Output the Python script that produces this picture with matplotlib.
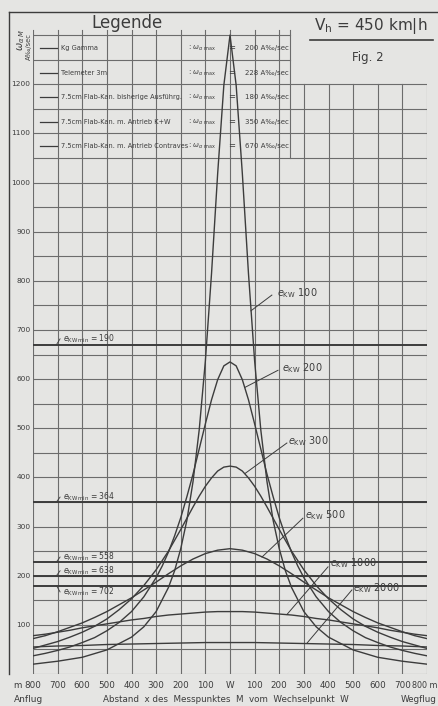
import matplotlib
matplotlib.use("Agg")
import matplotlib.pyplot as plt
from matplotlib.lines import Line2D

plt.rcParams['font.family'] = ['DejaVu Sans']
plt.rcParams['mathtext.fontset'] = 'dejavusans'

# ---------------- data ----------------
x_e100 = [-800, -700, -600, -500, -400, -350, -300, -250, -225, -200, -175, -150, -125, -100,
          -75, -50, -25, 0, 25, 50, 75, 100, 125, 150, 175, 200, 225, 250, 300, 350,
          400, 500, 600, 700, 800]
e100 = [20, 26, 34, 49, 75, 96, 127, 176, 210, 255, 313, 392, 497, 637,
        815, 1019, 1198, 1300, 1198, 1019, 815, 637, 497, 392, 313, 255, 210, 176, 127, 96,
        75, 49, 34, 26, 20]

x_fine = [-800, -750, -700, -650, -600, -550, -500, -450, -400, -350,
          -300, -275, -250, -225, -200, -175, -150, -125, -100, -75, -50, -25, 0,
          25, 50, 75, 100, 125, 150, 175, 200, 225, 250, 275, 300,
          350, 400, 450, 500, 550, 600, 650, 700, 750, 800]
e200 = [37, 42, 48, 55, 64, 74, 88, 105, 127, 157,
        196, 220, 248, 281, 318, 361, 407, 458, 509, 558, 599, 627, 635,
        627, 599, 558, 509, 458, 407, 361, 318, 281, 248, 220, 196,
        157, 127, 105, 88, 74, 64, 55, 48, 42, 37]
e300 = [52, 59, 66, 75, 85, 97, 112, 131, 153, 180,
        212, 231, 250, 272, 294, 317, 340, 362, 382, 399, 413, 421, 423,
        421, 413, 399, 382, 362, 340, 317, 294, 272, 250, 231, 212,
        180, 153, 131, 112, 97, 85, 75, 66, 59, 52]

x_m = list(range(-800, 801, 50))
e500 = [72, 78, 86, 95, 104, 115, 127, 141, 155, 171, 187, 204, 220, 234, 245, 252,
        255, 252, 245, 234, 220, 204, 187, 171, 155, 141, 127, 115, 104, 95, 86, 78, 72]
e1000 = [78, 81, 85, 89, 94, 98, 102, 106, 110, 113, 117, 120, 122, 124, 126, 127,
         127, 127, 126, 124, 122, 120, 117, 113, 110, 106, 102, 98, 94, 89, 85, 81, 78]
x_100 = list(range(-800, 801, 100))
e2000 = [55, 57, 58, 60, 61, 62, 63, 64, 64, 64, 63, 62, 61, 60, 58, 57, 55]

omega_levels = [670, 350, 228, 200, 180]
e_min_labels = ["190", "364", "558", "638", "702"]
e_min_text_y = [682, 360, 238, 210, 167]

legend_names = ["Kg Gamma", "Telemeter 3m", "7.5cm Flab-Kan. bisherige Ausführg.",
                "7.5cm Flab-Kan. m. Antrieb K+W", "7.5cm Flab-Kan. m. Antrieb Contraves"]
legend_values = ["200", "228", "180", "350", "670"]

x_ticklabels = ["800", "700", "600", "500", "400", "300", "200", "100", "W",
                "100", "200", "300", "400", "500", "600", "700"]
x_last_label = "800 m"
y_ticks = list(range(100, 1201, 100))

# ---------------- styling ----------------
W, H = 438, 706
BG = '#e5e5e3'
INK = '#3c3c3c'
GRID = '#6c6c6c'

fig = plt.figure(figsize=(W / 100, H / 100), dpi=100, facecolor=BG)
ax = fig.add_axes([33 / W, 32 / H, 394 / W, 662 / H])
ax.set_facecolor(BG)
ax.set_xlim(-800, 800)
ax.set_ylim(0, 1347)
ax.axis('off')


def fx(px):
    return px / W


def fy(py):
    return 1 - py / H


def ftext(px, py, s, **kw):
    fig.text(fx(px), fy(py), s, color=INK, **kw)


def fline(x0, y0, x1, y1, lw=1.0, color=INK):
    fig.add_artist(Line2D([fx(x0), fx(x1)], [fy(y0), fy(y1)],
                          transform=fig.transFigure, lw=lw, color=color))


# outer frame
fline(9, 12, 9, 674, lw=1.0)
fline(9, 12, 438, 12, lw=1.0)

# grid
for xv in x_100:
    top = 1310 if xv <= 200 else 1200
    ax.plot([xv, xv], [0, top], color=GRID, lw=0.8, zorder=1)
for yv in range(0, 1301, 50):
    right = 800 if yv <= 1200 else 244
    ax.plot([-800, right], [yv, yv], color=GRID, lw=0.8, zorder=1)
ax.plot([244, 244], [1050, 1310], color=GRID, lw=0.8, zorder=1)

# omega_max levels
for lv in omega_levels:
    ax.plot([-800, 800], [lv, lv], color=INK, lw=1.4, zorder=2)

# curves
ax.plot(x_e100, e100, color=INK, lw=1.0, zorder=3)
ax.plot(x_fine, e200, color=INK, lw=1.0, zorder=3)
ax.plot(x_fine, e300, color=INK, lw=1.0, zorder=3)
ax.plot(x_m, e500, color=INK, lw=1.0, zorder=3)
ax.plot(x_m, e1000, color=INK, lw=1.0, zorder=3)
ax.plot(x_100, e2000, color=INK, lw=1.0, zorder=3)

# curve labels with leader lines
curve_labels = [("100", (85, 739), (170, 771), (191, 776)),
                ("200", (60, 583), (195, 618), (211, 623)),
                ("300", (61, 408), (231, 470), (235, 474)),
                ("500", (130, 238), (296, 317), (305, 323)),
                ("1000", (231, 121), (398, 218), (406, 226)),
                ("2000", (313, 63), (495, 171), (500, 175))]
for lab, p0, p1, pt in curve_labels:
    ax.plot([p0[0], p1[0]], [p0[1], p1[1]], color=INK, lw=0.7, zorder=3)
    ax.text(pt[0], pt[1], r"$e_{\mathregular{KW}}$ " + lab, fontsize=7, color=INK,
            ha='left', va='center', zorder=4)

# e_KW min labels
for lab, ty, lv in zip(e_min_labels, e_min_text_y, omega_levels):
    ax.text(-680, ty, r"$e_{\mathregular{KW\,min}}$ = " + lab, fontsize=5.5, color=INK,
            ha='left', va='center', zorder=4)
    ax.plot([-705, -690], [lv, ty], color=INK, lw=0.6, zorder=3)

# y tick labels
for v in y_ticks:
    ax.text(-0.006, v, str(v), transform=ax.get_yaxis_transform(), fontsize=5.3,
            color=INK, ha='right', va='center')

# x tick labels
for xv, lab in zip(x_100[:-1], x_ticklabels):
    ax.text(xv, -0.017, lab, transform=ax.get_xaxis_transform(), fontsize=6.3,
            color=INK, ha='center', va='center')
ftext(437, 685, x_last_label, fontsize=5.8, ha='right', va='center')
ftext(17, 685, "m", fontsize=6.3, ha='center', va='center')
ftext(14, 699, "Anflug", fontsize=6.5, ha='left', va='center')
ftext(226, 699, "Abstand  x des  Messpunktes  M  vom  Wechselpunkt  W", fontsize=6.3,
      ha='center', va='center')
ftext(437, 699, "Wegflug", fontsize=6.3, ha='right', va='center')

# y axis label
ftext(21, 40, r"$\omega_{\alpha\ M}$", fontsize=7, rotation=90, ha='center', va='center')
ftext(29, 47, "A‰/sec", fontsize=4.8, rotation=90, ha='center', va='center')

# legend
ftext(127, 23, "Legende", fontsize=12, ha='center', va='center')
rows_y = [48, 73, 97, 122, 146]
for ry, name, val in zip(rows_y, legend_names, legend_values):
    fline(40, ry, 57, ry, lw=0.9)
    ftext(61, ry, name, fontsize=4.8, ha='left', va='center')
    ftext(188, ry, r": $\omega_{\alpha\ \mathregular{max}}$", fontsize=5, ha='left', va='center')
    ftext(232, ry, "=", fontsize=6, ha='center', va='center')
    ftext(245, ry, val + " A‰/sec", fontsize=5, ha='left', va='center')

# title block
ftext(371, 26, r"$\mathregular{V_h}$ = 450 km|h", fontsize=11, ha='center', va='center')
fline(310, 40, 433, 40, lw=1.2)
ftext(368, 57, "Fig. 2", fontsize=8.5, ha='center', va='center')

fig.savefig("out.png", dpi=100, facecolor=BG)
